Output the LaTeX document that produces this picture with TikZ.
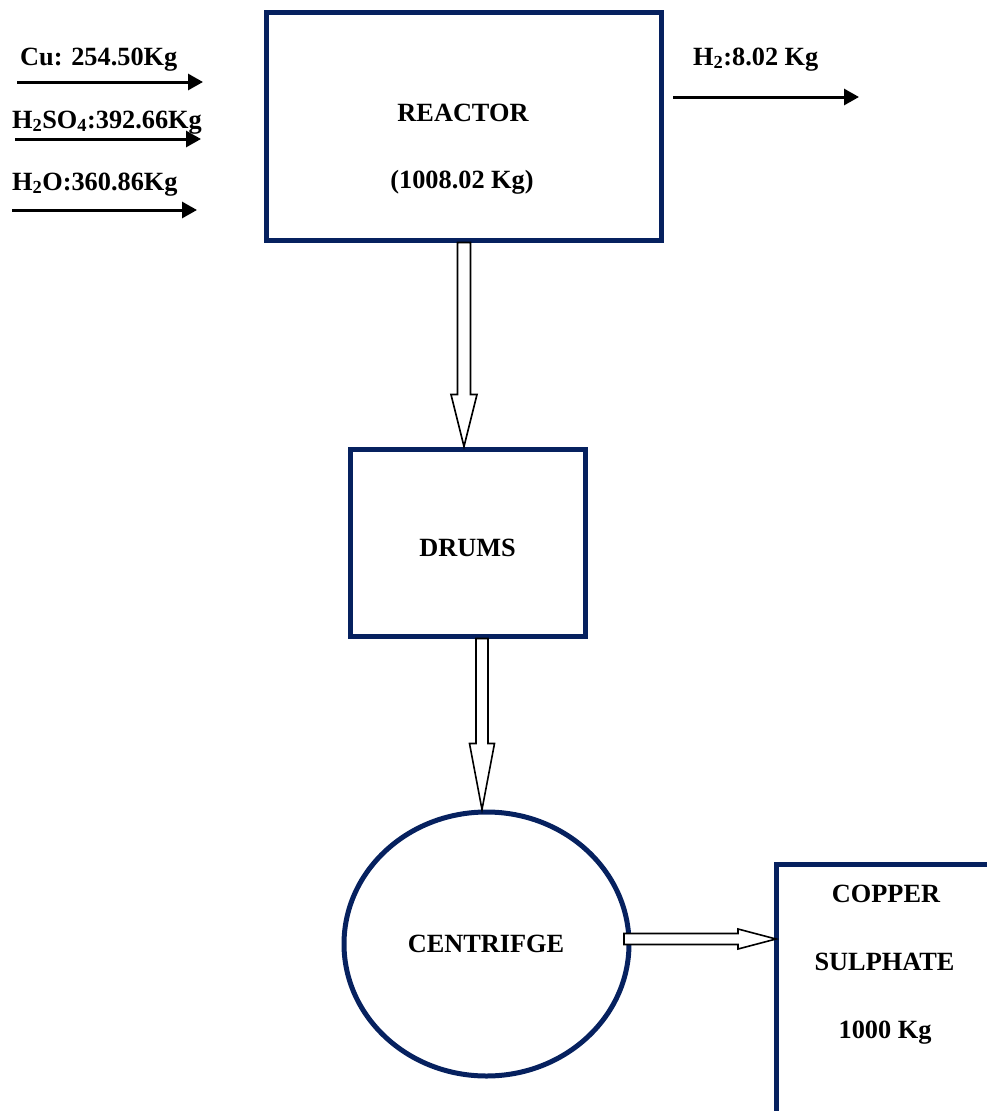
\documentclass[tikz,border=0pt]{standalone}
\usepackage{fontspec}
\setmainfont{Liberation Serif}
\usetikzlibrary{arrows.meta,calc,shapes.geometric}
\definecolor{navy}{HTML}{06215F}
\tikzset{
  unit/.style={draw=navy,line width=5pt,fill=none,inner sep=0pt},
  lbl/.style={font=\fontsize{26.3}{30}\selectfont\bfseries,inner sep=0pt},
  flow/.style={line width=3pt,-{Triangle[length=15pt,width=16pt]}},
  hollow/.style={draw=black,line width=1.6pt,fill=white,line join=miter}
}
\begin{document}
\begin{tikzpicture}[x=1pt,y=-1pt]
\useasboundingbox (0,0) rectangle (987,1111);
\begin{scope}
\clip (0,0) rectangle (987,1111);
% units
\node[unit,rectangle,minimum width=395pt,minimum height=228pt] (reactor) at (463.5,126) {};
\node[unit,rectangle,minimum width=235pt,minimum height=187pt] (drums) at (467.5,542.5) {};
\node[unit,ellipse,minimum width=285pt,minimum height=264pt] (centri) at (486.5,944) {};
\coordinate (cstop) at (776,864);
\draw[draw=navy,line width=5pt] (1000,864) -- (cstop) -- (776,1130);
\end{scope}
% texts
\node[lbl,anchor=base] at (463,121) {REACTOR};
\node[lbl,anchor=base] at (462,188) {(1008.02 Kg)};
\node[lbl,anchor=base] at (467.5,556) {DRUMS};
\node[lbl,anchor=base] at (486,952) {CENTRIFGE};
\node[lbl,anchor=base] (t1) at (886,902) {COPPER};
\node[lbl,anchor=base] (t2) at (884.5,970) {SULPHATE};
\node[lbl,anchor=base] (t3) at (885,1038) {1000 Kg};
% inputs
\node[lbl,anchor=base west] (cu) at (20,65) {Cu: 254.50Kg};
\node[lbl,anchor=base west] (h2so4) at (12,128) {H\textsubscript{2}SO\textsubscript{4}:392.66Kg};
\node[lbl,anchor=base west] (h2o) at (12,190) {H\textsubscript{2}O:360.86Kg};
\node[lbl,anchor=base west] (h2) at (693,65) {H\textsubscript{2}:8.02 Kg};
\coordinate (i1a) at (17,82);  \coordinate (i1b) at (203,82);
\coordinate (i2a) at (15,139); \coordinate (i2b) at (201,139);
\coordinate (i3a) at (12,210); \coordinate (i3b) at (197,210);
\coordinate (o1a) at (673,97); \coordinate (o1b) at (859,97);
\draw[flow] (i1a) -- (i1b);
\draw[flow] (i2a) -- (i2b);
\draw[flow] (i3a) -- (i3b);
\draw[flow] (o1a) -- (o1b);
% hollow arrows
\coordinate (r0) at (reactor.south -| 464,0);
\coordinate (d0) at (drums.north -| 464,0);
\draw[hollow] ($(r0)+(-6.5,0)$) -- ($(d0)+(-6.5,-52)$) -- ($(d0)+(-13,-52)$) -- (d0)
  -- ($(d0)+(13,-52)$) -- ($(d0)+(6.5,-52)$) -- ($(r0)+(6.5,0)$) -- cycle;
\coordinate (d1) at (drums.south -| 482,0);
\coordinate (c0) at (centri.north -| 482,0);
\draw[hollow] ($(d1)+(-6,0)$) -- ($(c0)+(-6,-66)$) -- ($(c0)+(-12.5,-66)$) -- (c0)
  -- ($(c0)+(12.5,-66)$) -- ($(c0)+(6,-66)$) -- ($(d1)+(6,0)$) -- cycle;
\coordinate (c1) at (624,939);
\coordinate (s0) at (cstop |- c1);
\draw[hollow] ($(c1)+(0,-5.5)$) -- ($(s0)+(-38,-5.5)$) -- ($(s0)+(-38,-10)$) -- (s0)
  -- ($(s0)+(-38,10)$) -- ($(s0)+(-38,5.5)$) -- ($(c1)+(0,5.5)$) -- cycle;
\end{tikzpicture}
\end{document}
